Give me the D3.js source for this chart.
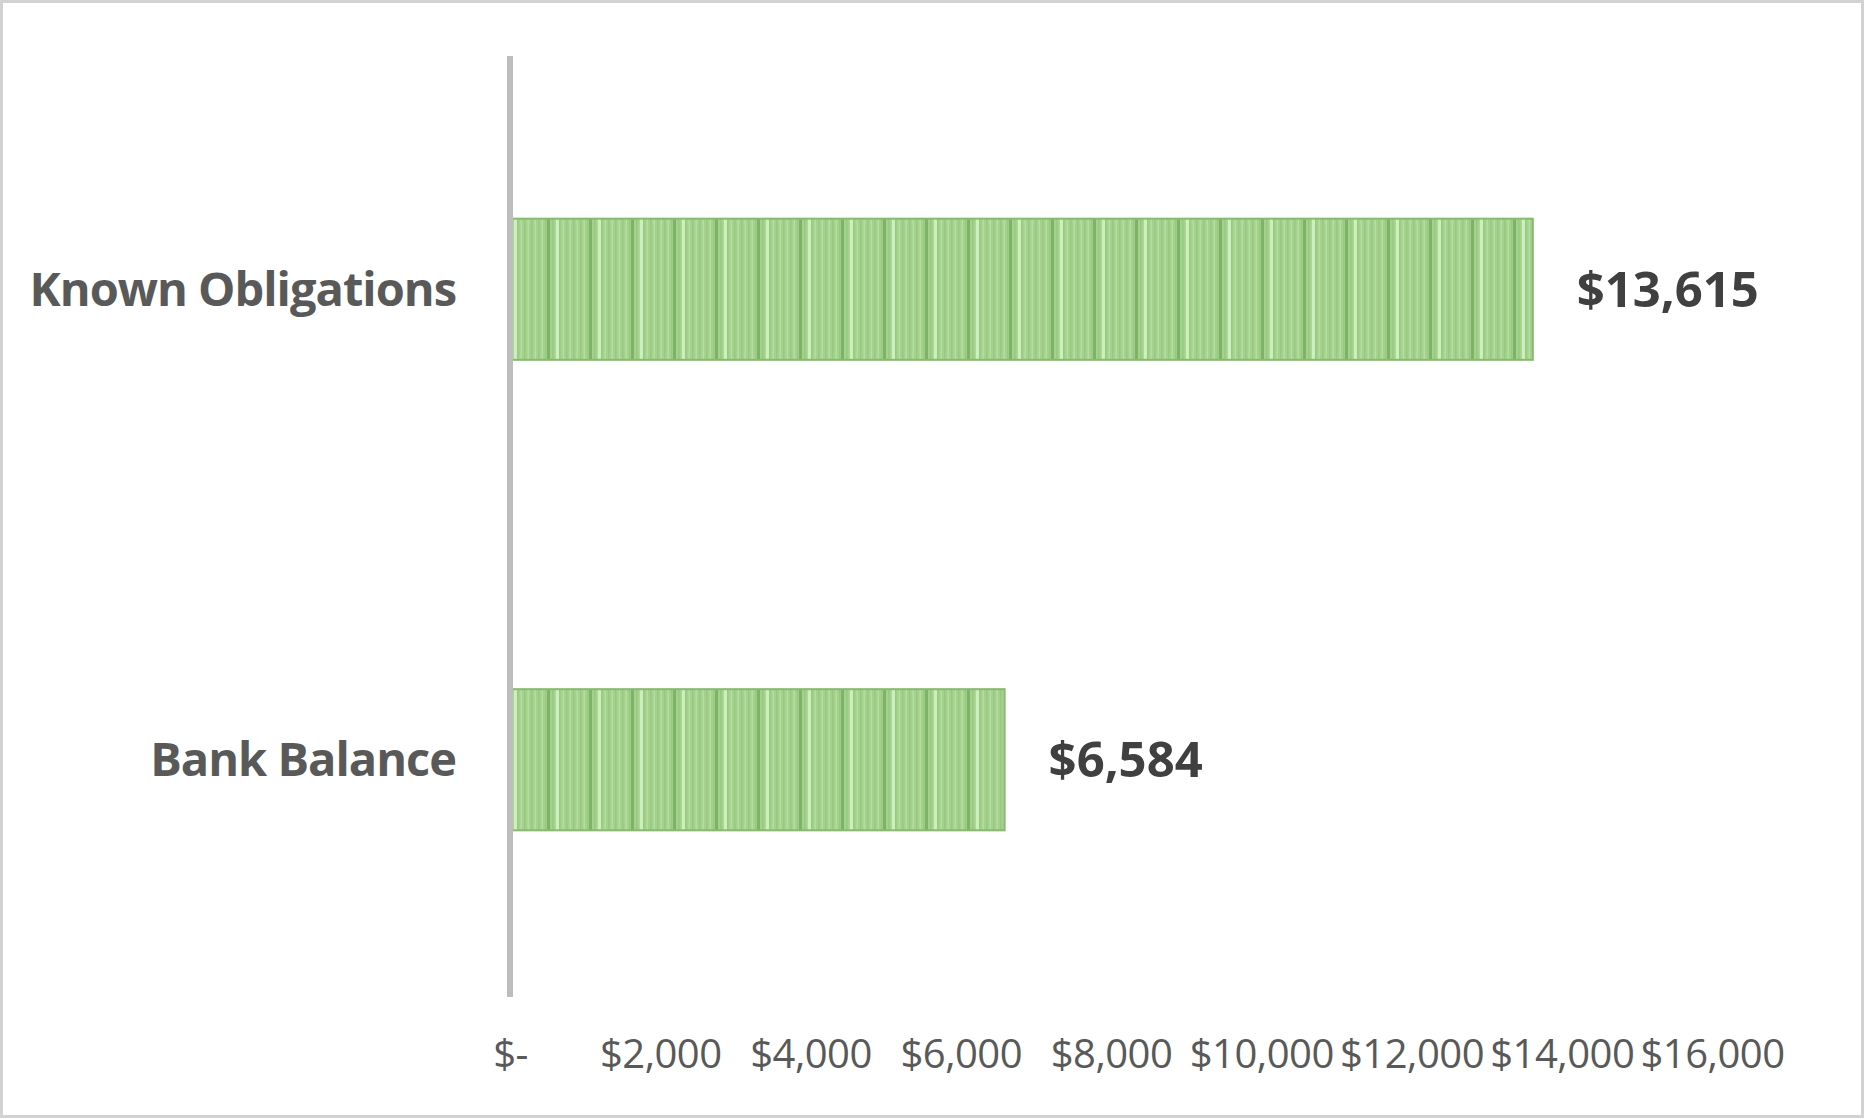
<!DOCTYPE html>
<html>
<head>
<meta charset="utf-8">
<script src="https://cdn.jsdelivr.net/npm/d3@7"></script>
<style>
body{margin:0;background:#fff;}
</style>
</head>
<body>
<script>
/* chart data */
var categories = ["Known Obligations", "Bank Balance"];
var values = [13615, 6584];
var valueLabels = ["$13,615", "$6,584"];
var tickValues = [0, 2000, 4000, 6000, 8000, 10000, 12000, 14000, 16000];
var tickLabels = ["$-", "$2,000", "$4,000", "$6,000", "$8,000", "$10,000", "$12,000", "$14,000", "$16,000"];

var width = 1865, height = 1119;

/*svg bodyspace*/
var svg = d3.select("body").append("svg")
    .attr("width", width)
    .attr("height", height);

/*scales*/
var x = d3.scaleLinear()
    .domain([0, 16000])
    .range([510, 1712]);

var y = d3.scaleBand()
    .domain(categories)
    .range([54, 995])
    .paddingInner(0.7)
    .paddingOuter(0.35);

/*striped green fill like the excel pattern*/
var pattern = svg.append("defs").append("pattern")
    .attr("id", "stripes")
    .attr("patternUnits", "userSpaceOnUse")
    .attr("x", x(0))
    .attr("y", 0)
    .attr("width", 42)
    .attr("height", 20);

pattern.append("rect")
    .attr("width", 42)
    .attr("height", 20)
    .attr("fill", "#A4D28C");

for (var k = 0; k < 12; k++) {
    pattern.append("rect")
	.attr("x", k * 3.5)
	.attr("width", 1.5)
	.attr("height", 20)
	.attr("fill", k % 2 ? "#B4DD9F" : "#98C982");
}
pattern.append("rect")
    .attr("x", 37)
    .attr("width", 3)
    .attr("height", 20)
    .attr("fill", "#7DB366");
pattern.append("rect")
    .attr("x", 4)
    .attr("width", 3)
    .attr("height", 20)
    .attr("fill", "#CDEFBB");

/*chart border*/
svg.append("rect")
    .attr("x", 1.5)
    .attr("y", 1.5)
    .attr("width", width - 4)
    .attr("height", height - 4)
    .attr("fill", "none")
    .attr("stroke", "#D2D2D2")
    .attr("stroke-width", 3);

/*bars*/
svg.selectAll(".bar")
    .data(values)
    .enter().append("rect")
    .attr("class", "bar")
    .attr("x", x(0))
    .attr("y", function(d, i) { return y(categories[i]); })
    .attr("width", function(d) { return x(d) - x(0); })
    .attr("height", y.bandwidth())
    .attr("fill", "url(#stripes)")
    .attr("stroke", "#88B972")
    .attr("stroke-width", 2);

/*value labels*/
svg.selectAll(".valueLabel")
    .data(values)
    .enter().append("text")
    .attr("class", "valueLabel")
    .attr("x", function(d) { return x(d) + 44; })
    .attr("y", function(d, i) { return y(categories[i]) + y.bandwidth() / 2; })
    .attr("dy", "0.36em")
    .attr("font-family", "'Open Sans', sans-serif")
    .attr("font-weight", 700)
    .attr("font-size", 49)
    .attr("fill", "#404040")
    .text(function(d, i) { return valueLabels[i]; });

/*category axis*/
var yAxis = svg.append("g")
    .attr("transform", "translate(" + x(0) + ",0)")
    .call(d3.axisLeft(y).tickSize(0).tickPadding(54));
yAxis.select(".domain").remove();
yAxis.selectAll("text")
    .attr("dy", "0.35em")
    .attr("font-family", "'Open Sans', sans-serif")
    .attr("font-weight", 700)
    .attr("font-size", 47)
    .attr("letter-spacing", -1)
    .attr("fill", "#595959");

/*vertical axis line*/
svg.append("line")
    .attr("x1", x(0))
    .attr("x2", x(0))
    .attr("y1", 56)
    .attr("y2", 997)
    .attr("stroke", "#BDBDBD")
    .attr("stroke-width", 6);

/*value axis*/
var xAxis = svg.append("g")
    .attr("transform", "translate(0,1068)")
    .call(d3.axisBottom(x)
	  .tickValues(tickValues)
	  .tickFormat(function(d, i) { return tickLabels[i]; })
	  .tickSize(0));
xAxis.select(".domain").remove();
xAxis.selectAll("text")
    .attr("y", 0)
    .attr("dy", 0)
    .attr("font-family", "'Open Sans', sans-serif")
    .attr("font-size", 40)
    .attr("letter-spacing", -0.5)
    .attr("fill", "#595959");
</script>
</body>
</html>
